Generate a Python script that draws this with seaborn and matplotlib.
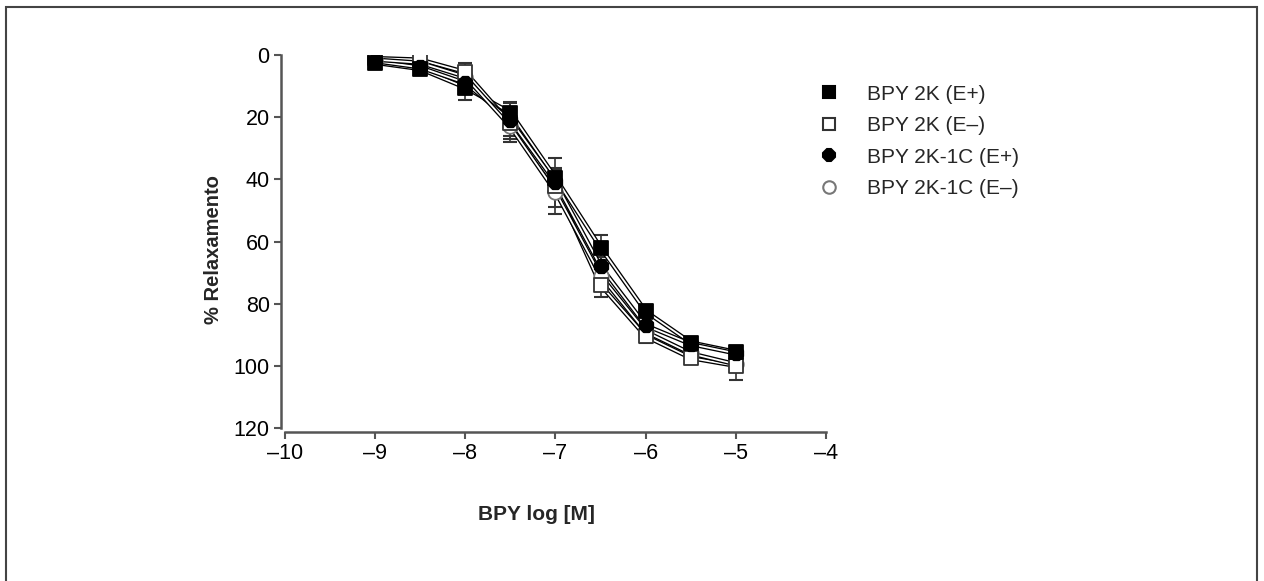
import numpy as np
import pandas as pd
import matplotlib
matplotlib.use("Agg")
import matplotlib.pyplot as plt
import matplotlib.patheffects as pe
from matplotlib.lines import Line2D
from matplotlib.patches import Rectangle
import seaborn as sns

# ---- data ----
log_conc = [-9, -8.5, -8, -7.5, -7, -6.5, -6, -5.5, -5]
series_names = ["BPY 2K (E+)", "BPY 2K (E–)", "BPY 2K-1C (E+)", "BPY 2K-1C (E–)"]
bpy2k_ep = [2.5, 4.5, 10.5, 18.5, 39.5, 62, 82.5, 92.5, 95.5]
bpy2k_em = [1.0, 1.5, 5.5, 22, 42, 74, 90.5, 97.5, 100]
bpy2k1c_ep = [2.0, 4.0, 9.0, 21, 41, 68, 87, 93, 96]
bpy2k1c_em = [1.5, 2.5, 7.0, 23, 44, 71, 89, 96, 99.5]
sem_2k_ep = [0.5, 1, 4, 3, 3, 4, 2, 1.5, 1.5]
sem_2k_em = [0.5, 1, 3, 4, 9, 4, 2, 1.5, 4.5]
sem_2k1c_ep = [0.5, 1, 3, 6, 4, 3, 2, 1, 1]
sem_2k1c_em = [0.5, 1, 3, 5, 5, 4, 2, 1.5, 2]
x_ticks = [-10, -9, -8, -7, -6, -5, -4]
x_ticklabels = ["–10", "–9", "–8", "–7", "–6", "–5", "–4"]
y_ticks = [0, 20, 40, 60, 80, 100, 120]

values = [bpy2k_ep, bpy2k_em, bpy2k1c_ep, bpy2k1c_em]
sems = [sem_2k_ep, sem_2k_em, sem_2k1c_ep, sem_2k1c_em]

df = pd.concat([pd.DataFrame({"x": log_conc, "y": v, "err": s, "series": n})
                for n, v, s in zip(series_names, values, sems)], ignore_index=True)

sns.set_theme(style="ticks")
plt.rcParams["font.family"] = ["Liberation Sans", "DejaVu Sans"]

fig = plt.figure(figsize=(12.64, 5.81), dpi=100)
W, H = 1264, 581
ax = fig.add_axes([285 / W, 1 - 428 / H, (826 - 285) / W, (428 - 55) / H])

styles = {
    "BPY 2K (E+)": dict(marker="s", mfc="black", mec="black"),
    "BPY 2K (E–)": dict(marker="s", mfc="white", mec="#333333"),
    "BPY 2K-1C (E+)": dict(marker="8", mfc="black", mec="black"),
    "BPY 2K-1C (E–)": dict(marker="o", mfc="white", mec="#777777"),
}

for name in series_names:
    d = df[df["series"] == name]
    ax.errorbar(d["x"], d["y"], yerr=d["err"], fmt="none", ecolor="#333333",
                elinewidth=1.2, capsize=5, capthick=1.5, zorder=2)
    sns.lineplot(data=d, x="x", y="y", ax=ax, color="white", lw=1.3,
                 legend=False, zorder=3, sort=False)
    ax.lines[-1].set_path_effects([pe.Stroke(linewidth=3.2, foreground="black"), pe.Normal()])

for name in [series_names[3], series_names[1], series_names[2], series_names[0]]:
    d = df[df["series"] == name]
    st = styles[name]
    sns.scatterplot(data=d, x="x", y="y", ax=ax, marker=st["marker"],
                    color=st["mfc"], edgecolor=st["mec"], linewidth=1.3,
                    s=110, zorder=4, legend=False)

ax.set_xlim(-10, -4)
ax.set_ylim(120, 0)
ax.set_xticks(x_ticks)
ax.set_xticklabels(x_ticklabels)
ax.set_yticks(y_ticks)
ax.tick_params(axis="both", labelsize=15.5, length=5, width=1.5, color="#555555",
               labelcolor="black", pad=3)
for sp in ["left", "bottom"]:
    ax.spines[sp].set_linewidth(1.8)
    ax.spines[sp].set_color("#555555")
sns.despine(ax=ax, offset=3)

ax.set_xlabel("")
ax.set_ylabel("")
fig.text(536 / W, 1 - 515 / H, "BPY log [M]", ha="center", va="center",
         fontsize=15, fontweight="bold")
fig.text(214 / W, 1 - 250 / H, "% Relaxamento", ha="center", va="center",
         rotation=90, fontsize=14.5, fontweight="bold")

handles = []
for name in series_names:
    st = styles[name]
    handles.append(Line2D([], [], linestyle="none", marker=st["marker"],
                          markerfacecolor=st["mfc"], markeredgecolor=st["mec"],
                          markeredgewidth=1.5, markersize=9))
leg = fig.legend(handles, series_names, loc="upper left",
                 bbox_to_anchor=(800 / W, 1 - 66 / H), frameon=False,
                 fontsize=15, handletextpad=1.3, labelspacing=0.6,
                 handlelength=1.0)

fig.patches.append(Rectangle((6 / W, -0.02), (1257 - 6) / W, (H - 7) / H + 0.02,
                             transform=fig.transFigure, fill=False,
                             edgecolor="#444444", lw=1.5))

fig.savefig("out.png", dpi=100)
